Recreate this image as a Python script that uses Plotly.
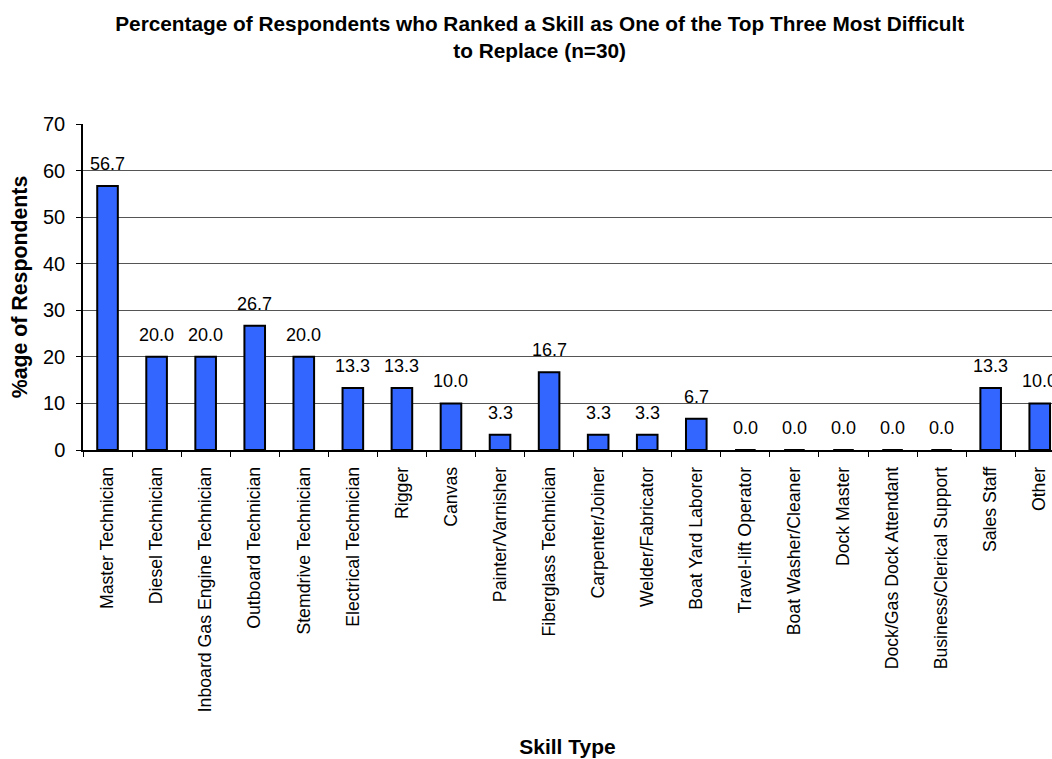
import plotly.graph_objects as go

categories = [
    "Master Technician", "Diesel Technician", "Inboard Gas Engine Technician",
    "Outboard Technician", "Stemdrive Technician", "Electrical Technician",
    "Rigger", "Canvas", "Painter/Varnisher", "Fiberglass Technician",
    "Carpenter/Joiner", "Welder/Fabricator", "Boat Yard Laborer",
    "Travel-lift Operator", "Boat Washer/Cleaner", "Dock Master",
    "Dock/Gas Dock Attendant", "Business/Clerical Support", "Sales Staff", "Other",
]
values = [56.7, 20.0, 20.0, 26.7, 20.0, 13.3, 13.3, 10.0, 3.3, 16.7,
          3.3, 3.3, 6.7, 0.0, 0.0, 0.0, 0.0, 0.0, 13.3, 10.0]
y_ticks = [0, 10, 20, 30, 40, 50, 60, 70]

title_text = ("Percentage of Respondents who Ranked a Skill as One of the Top Three Most Difficult"
              "<br>to Replace (n=30)")
x_title = "Skill Type"
y_title = "%age of Respondents"

FONT = "Arial, 'Liberation Sans', sans-serif"

fig = go.Figure()
fig.add_trace(go.Bar(
    x=categories, y=values,
    marker=dict(color="#3366FF", line=dict(color="#000000", width=2)),
    hoverinfo="x+y",
))

for c, v in zip(categories, values):
    fig.add_annotation(
        x=c, y=v, text=f"{v:.1f}", showarrow=False,
        yanchor="bottom", yshift=10,
        font=dict(family=FONT, size=18, color="#000000"),
    )

fig.update_layout(
    width=1052, height=759,
    margin=dict(l=83, r=0, t=124, b=309, autoexpand=False),
    paper_bgcolor="white", plot_bgcolor="white",
    bargap=0.58,
    showlegend=False,
    title=dict(
        text=title_text, x=0.513, xanchor="center", y=0.959, yanchor="top",
        font=dict(family=FONT, size=20.8, color="#000000", weight="bold"),
    ),
    font=dict(family=FONT, size=18, color="#000000"),
)

fig.update_xaxes(
    type="category",
    range=[-0.5, 19.25],
    tickangle=-90,
    tickson="boundaries",
    ticks="outside", ticklen=5, tickcolor="#000000", tickwidth=1,
    showline=True, linecolor="#000000", linewidth=1.5,
    showgrid=False,
    tickfont=dict(family=FONT, size=17.7, color="#000000"),
    ticklabelstandoff=8,
    ticklabeloverflow="allow",
    title=dict(text=x_title, standoff=28,
               font=dict(family=FONT, size=21, color="#000000", weight="bold")),
    automargin=False,
)

fig.update_yaxes(
    range=[0, 70],
    tickvals=y_ticks,
    ticks="outside", ticklen=5, tickcolor="#000000", tickwidth=1,
    showline=True, linecolor="#000000", linewidth=1.5,
    showgrid=True, gridcolor="#555555", gridwidth=1,
    zeroline=False,
    tickfont=dict(family=FONT, size=20, color="#000000"),
    ticklabelstandoff=7,
    title=dict(text=y_title, standoff=10,
               font=dict(family=FONT, size=21.3, color="#000000", weight="bold")),
    automargin=False,
)

fig.write_html(
    "out.html",
    config={"displayModeBar": False},
    post_script="document.body.style.margin='0';document.body.style.overflow='hidden';",
)
